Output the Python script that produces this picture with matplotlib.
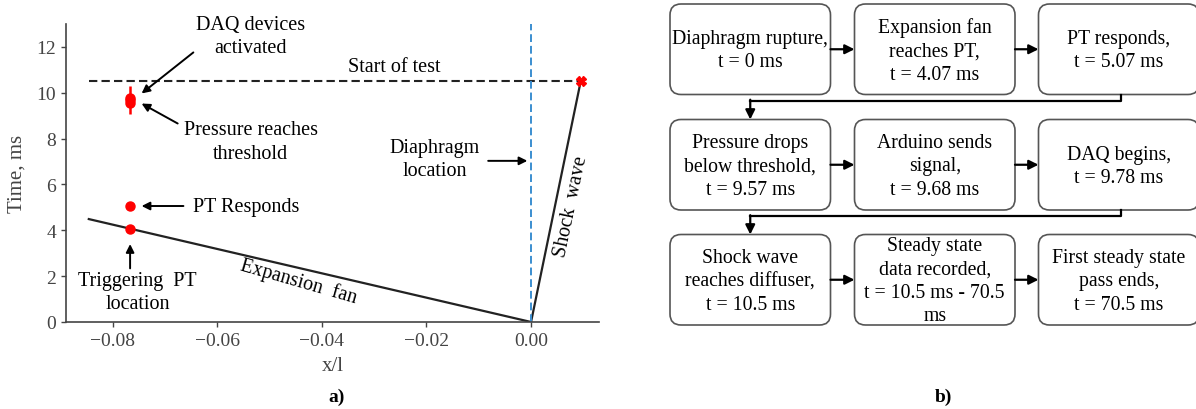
import matplotlib
matplotlib.use("Agg")
import matplotlib.pyplot as plt
from matplotlib.patches import FancyBboxPatch

plt.rcParams['font.family'] = ['Liberation Serif', 'DejaVu Serif']

# ---- data for panel a)
fan_x = [-0.0846, 0.0]
fan_t = [4.49, 0.0]
shock_x = [0.0, 0.0095]
shock_t = [0.0, 10.5]
start_x = [-0.0846, 0.0095]
start_t = [10.5, 10.5]
pt_x = -0.0767
pt_t = [4.07, 5.07]
daq_t = [9.57, 9.68, 9.78]
daq_err = 0.6
shock_end_x = [0.0095]
shock_end_t = [10.5]
xticks = [-0.08, -0.06, -0.04, -0.02, 0.00]
yticks = [0, 2, 4, 6, 8, 10, 12]

# ---- data for panel b)
steps = [
    "Diaphragm rupture,\nt = 0 ms",
    "Expansion fan\nreaches PT,\nt = 4.07 ms",
    "PT responds,\nt = 5.07 ms",
    "Pressure drops\nbelow threshold,\nt = 9.57 ms",
    "Arduino sends\nsignal,\nt = 9.68 ms",
    "DAQ begins,\nt = 9.78 ms",
    "Shock wave\nreaches diffuser,\nt = 10.5 ms",
    "Steady state\ndata recorded,\nt = 10.5 ms - 70.5\nms",
    "First steady state\npass ends,\nt = 70.5 ms",
]

fig = plt.figure(figsize=(11.96, 4.10), dpi=100)

# ---------------- panel a)
ax = fig.add_axes([65.8 / 1196, 87 / 410, (599 - 65.8) / 1196, 298 / 410])
ax.plot(fan_x, fan_t, color='#222222', lw=1.6)
ax.plot(shock_x, shock_t, color='#222222', lw=1.6)
ax.plot(start_x, start_t, color='#222222', lw=1.5, ls=(0, (4, 2)))
ax.axvline(0.0, color='#3b8ed0', lw=1.4, ls=(0, (4, 2)))
ax.plot([pt_x] * len(pt_t), pt_t, 'o', color='red', ms=6.5, ls='none')
ax.errorbar([pt_x] * len(daq_t), daq_t, yerr=[0, daq_err, 0], fmt='o',
            color='red', ms=6.5, elinewidth=1.8)
ax.plot(shock_end_x, shock_end_t, 'X', color='red', ms=7, ls='none')

ax.set_xlim(-0.0890, 0.0130)
ax.set_ylim(0, 13)
ax.set_xticks(xticks)
ax.set_yticks(yticks)
ax.set_xticklabels(['\u22120.08', '\u22120.06', '\u22120.04', '\u22120.02', '0.00'])
ax.tick_params(labelsize=14, colors='#444444', length=3.5, width=1)
for s in ['top', 'right']:
    ax.spines[s].set_visible(False)
for s in ['left', 'bottom']:
    ax.spines[s].set_color('#444444')
    ax.spines[s].set_linewidth(1.2)
ax.set_xlabel('x/l', fontsize=15, color='#444444', labelpad=5)
ax.set_ylabel('Time, ms', fontsize=15, color='#444444', labelpad=7)

fs = 14.5
ls = 1.3
arr = dict(arrowstyle='-|>', color='black', lw=1.4, mutation_scale=12, shrinkA=0, shrinkB=0)
ax.annotate('', xy=(-0.0745, 9.97), xytext=(-0.0646, 11.76), arrowprops=arr)
ax.text(-0.0536, 12.47, 'DAQ devices\nactivated', fontsize=fs, ha='center', va='center', linespacing=ls)
ax.annotate('', xy=(-0.0745, 9.53), xytext=(-0.0676, 8.66), arrowprops=arr)
ax.text(-0.0536, 7.87, 'Pressure reaches\nthreshold', fontsize=fs, ha='center', va='center', linespacing=ls)
ax.annotate('', xy=(-0.0745, 5.06), xytext=(-0.0665, 5.06), arrowprops=arr)
ax.text(-0.0545, 5.06, 'PT Responds', fontsize=fs, ha='center', va='center')
ax.annotate('', xy=(-0.0767, 3.40), xytext=(-0.0767, 2.34), arrowprops=arr)
ax.text(-0.0753, 1.31, 'Triggering  PT\nlocation', fontsize=fs, ha='center', va='center', linespacing=ls)
ax.annotate('', xy=(-0.0007, 7.03), xytext=(-0.0082, 7.03), arrowprops=arr)
ax.text(-0.0185, 7.11, 'Diaphragm\nlocation', fontsize=fs, ha='center', va='center', linespacing=ls)
ax.text(-0.0262, 11.13, 'Start of test', fontsize=fs, ha='center', va='center')
ax.text(-0.0445, 1.80, 'Expansion  fan', fontsize=fs, ha='center', va='center', rotation=-16)
ax.text(0.0077, 5.07, 'Shock  wave', fontsize=fs, ha='center', va='center', rotation=78)

# ---------------- panel b) (pixel coordinates)
fx = fig.add_axes([0, 0, 1, 1], zorder=-1)
fx.set_xlim(0, 1196)
fx.set_ylim(410, 0)
fx.axis('off')

col_x = [670, 854.5, 1038.5]
row_y = [5, 120.5, 235.5]
bw, bh = 160.5, 90.5
for i, label in enumerate(steps):
    r, c = divmod(i, 3)
    x0, y0 = col_x[c], row_y[r]
    fx.add_patch(FancyBboxPatch((x0 + 11, y0 + 11), bw - 22, bh - 22,
                                boxstyle='round,pad=11', fc='white', ec='#555555', lw=1.2))
    fx.text(x0 + bw / 2, y0 + bh / 2 + 1, label, fontsize=14.2, ha='center', va='center',
            linespacing=1.32)
    if c < 2:
        fx.annotate('', xy=(col_x[c + 1], y0 + bh / 2), xytext=(x0 + bw, y0 + bh / 2),
                    arrowprops=dict(arrowstyle='-|>', color='black', lw=1.6,
                                    mutation_scale=14, shrinkA=0, shrinkB=0))

for r in range(2):
    yb = row_y[r] + bh
    xs = col_x[2] + bw / 2 + 2
    xe = col_x[0] + bw / 2
    ym = yb + 6
    fx.plot([xs, xs, xe], [yb, ym, ym], color='black', lw=1.6)
    fx.annotate('', xy=(xe, row_y[r + 1]), xytext=(xe, ym - 0.8),
                arrowprops=dict(arrowstyle='-|>', color='black', lw=1.6,
                                mutation_scale=14, shrinkA=0, shrinkB=0))

fx.text(337, 397, 'a)', fontsize=14, fontweight='bold', ha='center', va='center')
fx.text(943, 397, 'b)', fontsize=14, fontweight='bold', ha='center', va='center')

fig.savefig('out.png', dpi=100)
